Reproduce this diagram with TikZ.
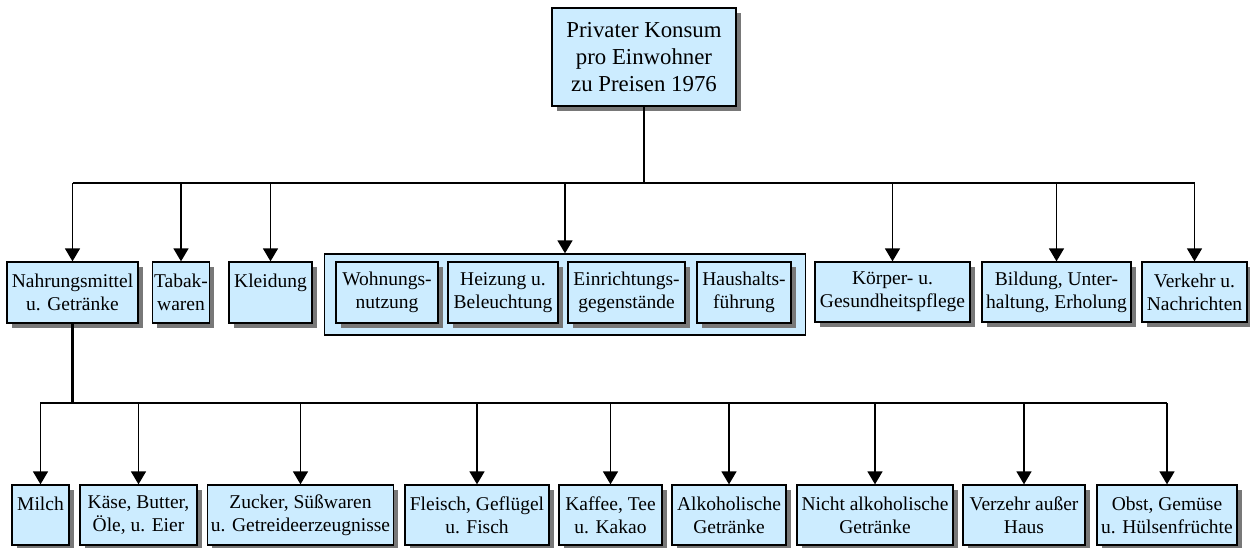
\documentclass[tikz,border=0pt]{standalone}
\usepackage{fontspec}
\setmainfont{Liberation Serif}
\usetikzlibrary{shadows,arrows.meta}
\definecolor{boxfill}{RGB}{204,236,255}
\definecolor{shadowgray}{RGB}{120,120,120}
\tikzset{
  box/.style={draw=black, line width=1.3pt, fill=boxfill, align=center, inner sep=0pt,
    font=\fontsize{19.5}{23}\selectfont,
    general shadow={fill=shadowgray, shadow xshift=4.5pt, shadow yshift=-4.5pt}},
  topbox/.style={box, font=\fontsize{22.8}{27}\selectfont},
  groupbox/.style={draw=black, line width=1.3pt, fill=boxfill, inner sep=0pt},
  trunk/.style={line width=2.2pt},
  arr/.style={line width=1.5pt, -{Triangle[width=15pt,length=13pt]}},
}
\begin{document}
\begin{tikzpicture}[x=1pt,y=-1pt]
\useasboundingbox (0,0) rectangle (1250,547);
% top
\node[topbox, minimum width=184pt, minimum height=98pt] (top) at (644,57) {Privater Konsum\\pro Einwohner\\zu Preisen 1976};
% level 1
\node[box, minimum width=131pt, minimum height=61pt] (nahr) at (72.5,292.5) {Nahrungsmittel\\u. Getränke};
\node[box, minimum width=57pt, minimum height=61pt] (tabak) at (181,292.5) {Tabak-\\waren};
\node[box, minimum width=83pt, minimum height=61pt] (kleid) at (270.5,292.5) {Kleidung\\\vphantom{A}};
\node[groupbox, minimum width=481pt, minimum height=81pt] (grp) at (565,294.5) {};
\node[box, minimum width=102pt, minimum height=61pt] (wohn) at (387,292.5) {Wohnungs-\\nutzung};
\node[box, minimum width=110pt, minimum height=61pt] (heiz) at (503,292.5) {Heizung u.\\Beleuchtung};
\node[box, minimum width=117pt, minimum height=61pt] (einr) at (626.5,292.5) {Einrichtungs-\\gegenstände};
\node[box, minimum width=94pt, minimum height=61pt] (haus) at (744,292.5) {Haushalts-\\führung};
\node[box, minimum width=155pt, minimum height=60pt] (koerp) at (892.5,292) {Körper- u.\\Gesundheitspflege};
\node[box, minimum width=149pt, minimum height=60pt] (bild) at (1056.5,292) {Bildung, Unter-\\haltung, Erholung};
\node[box, minimum width=105pt, minimum height=60pt] (verk) at (1194.5,292) {Verkehr u.\\Nachrichten};
% level 2
\node[box, minimum width=57pt, minimum height=60pt] (milch) at (40.5,515) {Milch\\\vphantom{A}};
\node[box, minimum width=117pt, minimum height=60pt] (kaese) at (138.5,515) {Käse, Butter,\\Öle, u. Eier};
\node[box, minimum width=186pt, minimum height=60pt] (zuck) at (300.5,515) {Zucker, Süßwaren\\u. Getreideerzeugnisse};
\node[box, minimum width=144pt, minimum height=60pt] (fleisch) at (477,515) {Fleisch, Geflügel\\u. Fisch};
\node[box, minimum width=103pt, minimum height=60pt] (kaffee) at (610.5,515) {Kaffee, Tee\\u. Kakao};
\node[box, minimum width=114pt, minimum height=60pt] (alk) at (729,515) {Alkoholische\\Getränke};
\node[box, minimum width=156pt, minimum height=60pt] (nicht) at (875,515) {Nicht alkoholische\\Getränke};
\node[box, minimum width=122pt, minimum height=60pt] (verz) at (1024,515) {Verzehr außer\\Haus};
\node[box, minimum width=140pt, minimum height=60pt] (obst) at (1167,515) {Obst, Gemüse\\u. Hülsenfrüchte};
% connectors level 1
\coordinate (bus1) at (644,183);
\draw[trunk] (top.south) -- (bus1);
\draw[trunk] (nahr.north |- bus1) -- (verk.north |- bus1);
\foreach \n in {nahr,tabak,kleid,grp,koerp,bild,verk}
  \draw[arr] (\n.north |- bus1) -- (\n.north);
% connectors level 2
\coordinate (bus2) at (72.5,403);
\draw[trunk] (nahr.south) -- (bus2) -- (obst.north |- bus2);
\draw[arr] (bus2) -| (milch.north);
\foreach \n in {kaese,zuck,fleisch,kaffee,alk,nicht,verz,obst}
  \draw[arr] (\n.north |- bus2) -- (\n.north);
\end{tikzpicture}
\end{document}
